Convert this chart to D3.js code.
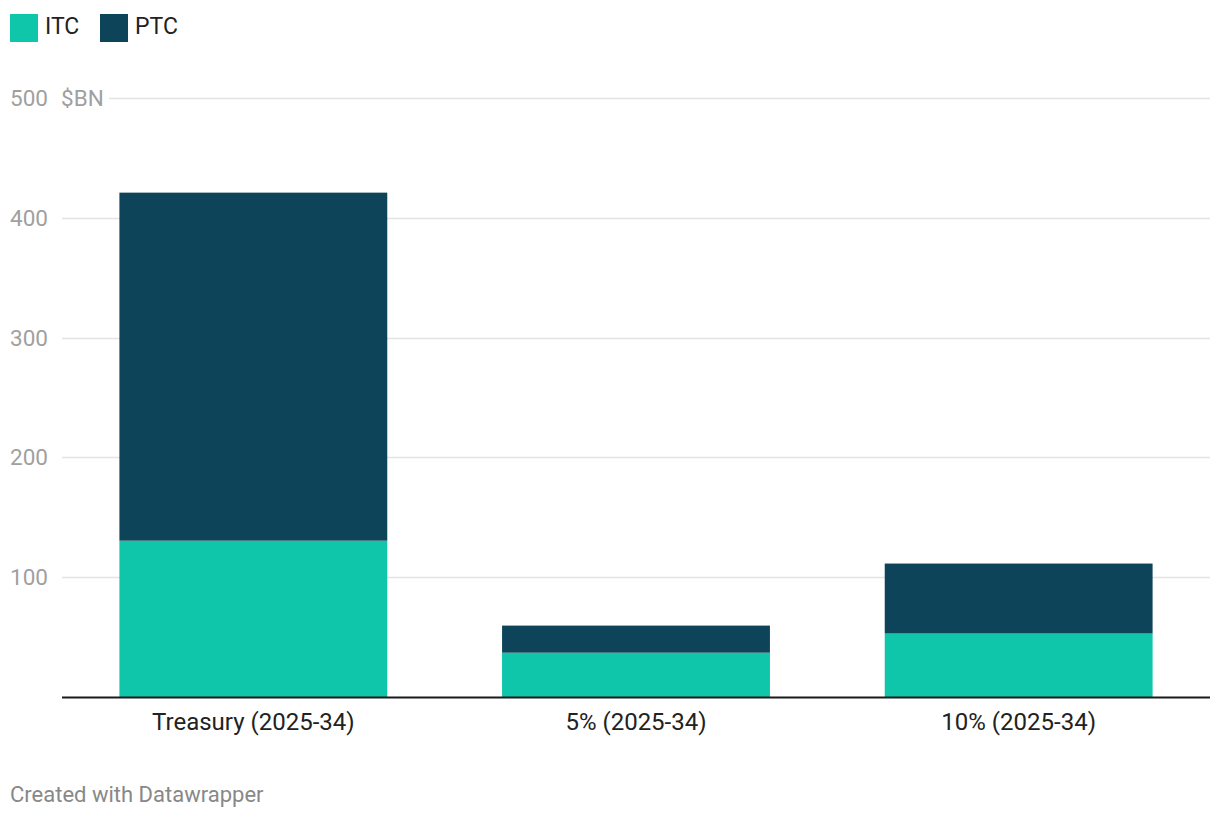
<!DOCTYPE html>
<html>
<head>
<meta charset="utf-8">
<script src="https://cdn.jsdelivr.net/npm/d3@7"></script>
<style>
  body { margin: 0; background: #fff; font-family: Roboto, "Noto Sans", sans-serif; }
</style>
</head>
<body>
<svg id="chart" width="1220" height="820"></svg>
<script>
const categories = ["Treasury (2025-34)", "5% (2025-34)", "10% (2025-34)"];
const seriesNames = ["ITC", "PTC"];
const itcValues = [130.5, 37, 53];
const ptcValues = [290.5, 22.6, 58.4];
const yTicks = [100, 200, 300, 400, 500];
const colors = { ITC: "#0fc5aa", PTC: "#0e4459" };

const svg = d3.select("#chart");
const margin = { top: 98, right: 10, bottom: 123, left: 62 };
const width = 1220, height = 820;
const plotW = width - margin.left - margin.right,
  plotH = height - margin.top - margin.bottom;

const rows = categories.map((c, i) => ({ cat: c, ITC: itcValues[i], PTC: ptcValues[i] }));
const stacked = d3.stack().keys(seriesNames)(rows);

const x = d3.scaleBand()
  .domain(categories)
  .range([0, plotW])
  .paddingInner(0.3)
  .paddingOuter(0.15);

const y = d3.scaleLinear()
  .domain([0, 500])
  .range([plotH, 0]);

const g = svg.append("g")
  .attr("transform", `translate(${margin.left},${margin.top})`);

// grid lines
g.selectAll("line.grid")
  .data(yTicks)
  .join("line")
    .attr("class", "grid")
    .attr("x1", d => d === 500 ? 47 : 0)
    .attr("x2", plotW)
    .attr("y1", d => Math.round(y(d)) + 0.5)
    .attr("y2", d => Math.round(y(d)) + 0.5)
    .attr("stroke", "#e3e3e3")
    .attr("stroke-width", 1.5);

// y tick labels
svg.append("g")
  .selectAll("text")
  .data(yTicks)
  .join("text")
    .attr("x", 10)
    .attr("y", d => margin.top + y(d) + 8)
    .attr("fill", "#a0a0a0")
    .attr("font-size", 22.5)
    .text(d => d);

svg.append("text")
  .attr("x", 61)
  .attr("y", margin.top + y(500) + 8)
  .attr("fill", "#a0a0a0")
  .attr("font-size", 22.5)
  .text("$BN");

// bars
g.selectAll("g.series")
  .data(stacked)
  .join("g")
    .attr("class", "series")
    .attr("fill", d => colors[d.key])
  .selectAll("rect")
  .data(d => d)
  .join("rect")
    .attr("x", d => x(d.data.cat))
    .attr("width", x.bandwidth())
    .attr("y", d => y(d[1]))
    .attr("height", d => y(d[0]) - y(d[1]));

// baseline
g.append("line")
  .attr("x1", 0)
  .attr("x2", plotW)
  .attr("y1", plotH + 0.5)
  .attr("y2", plotH + 0.5)
  .attr("stroke", "#1a1a1a")
  .attr("stroke-width", 2);

// x labels
const xAxis = d3.axisBottom(x).tickSize(0).tickPadding(0);
g.append("g")
  .attr("transform", `translate(0,${plotH})`)
  .call(xAxis)
  .call(a => a.select(".domain").remove())
  .selectAll("text")
    .attr("dy", 0)
    .attr("y", 33)
    .attr("fill", "#222")
    .attr("font-size", 24)
    .attr("font-family", "Roboto, sans-serif");

// legend
const legend = svg.append("g").attr("transform", "translate(10,14)");
const legX = [0, 90];
seriesNames.forEach((s, i) => {
  legend.append("rect")
    .attr("x", legX[i])
    .attr("y", 0)
    .attr("width", 28)
    .attr("height", 28)
    .attr("fill", colors[s]);
  legend.append("text")
    .attr("x", legX[i] + 35)
    .attr("y", 20)
    .attr("fill", "#222")
    .attr("font-size", 23)
    .text(s);
});

// footer
svg.append("text")
  .attr("x", 10)
  .attr("y", 802)
  .attr("fill", "#888")
  .attr("font-size", 22)
  .text("Created with Datawrapper");
</script>
</body>
</html>
